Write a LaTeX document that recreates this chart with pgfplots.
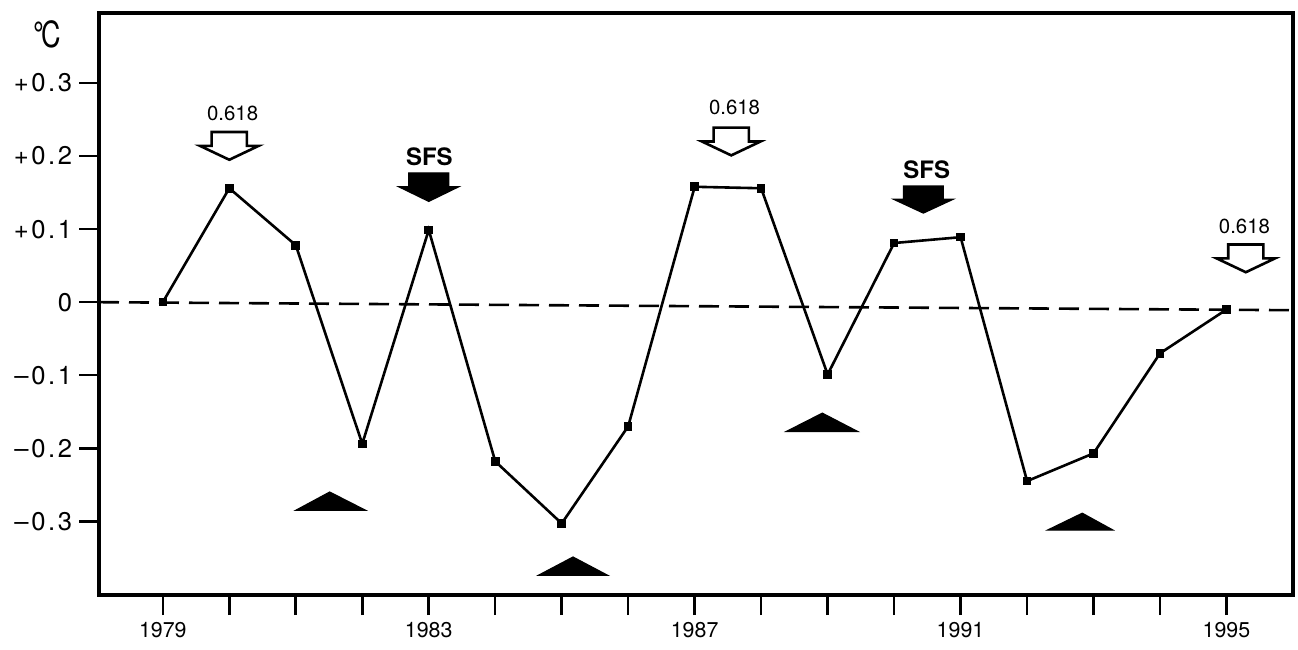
\documentclass[border=0pt]{standalone}
\usepackage{fontspec}
\setmainfont{TeX Gyre Heros}
\newfontfamily\tickfont[LetterSpace=10]{TeX Gyre Heros}
\usepackage{pgfplots}
\pgfplotsset{compat=1.18}

\begin{document}
\begin{tikzpicture}
\begin{axis}[
  scale only axis, width=597pt, height=291pt,
  xmin=1978.04, xmax=1996.0, ymin=-0.401, ymax=0.396,
  axis line style={line width=2pt},
  tick align=outside,
  major tick length=10pt,
  tick style={line width=1.3pt, black},
  xtick pos=bottom, ytick pos=left,
  xtick={1979,...,1995},
  xticklabels={1979,,,,1983,,,,1987,,,,1991,,,,1995},
  ytick={-0.3,-0.2,-0.1,0,0.1,0.2,0.3},
  yticklabels={–0.3,–0.2,–0.1,0,+0.1,+0.2,+0.3},
  xticklabel style={font=\fontsize{10.7}{12}\selectfont},
  yticklabel style={font=\tickfont\fontsize{12.8}{14}\selectfont},
  clip=false,
]

% zero reference line
\addplot[line width=1.3pt, dash pattern=on 10pt off 5pt] coordinates {(1978.04,0) (1996,-0.011)};

% annual temperature anomaly
\addplot[line width=1.3pt, mark=square*, mark size=1.5pt] coordinates {
 (1979,0) (1980,0.156) (1981,0.078) (1982,-0.194) (1983,0.099)
 (1984,-0.218) (1985,-0.303) (1986,-0.170) (1987,0.158) (1988,0.156)
 (1989,-0.099) (1990,0.081) (1991,0.089) (1992,-0.245) (1993,-0.207)
 (1994,-0.070) (1995,-0.010)};

% minima markers
\addplot[fill=black, draw=black, line width=0.6pt] coordinates {(1981.00,-0.285) (1981.51,-0.260) (1982.05,-0.285)} -- cycle;
\addplot[fill=black, draw=black, line width=0.6pt] coordinates {(1984.65,-0.374) (1985.17,-0.349) (1985.69,-0.374)} -- cycle;
\addplot[fill=black, draw=black, line width=0.6pt] coordinates {(1988.38,-0.177) (1988.92,-0.152) (1989.45,-0.177)} -- cycle;
\addplot[fill=black, draw=black, line width=0.6pt] coordinates {(1992.31,-0.312) (1992.83,-0.289) (1993.29,-0.312)} -- cycle;

% open arrows (0.618)
\addplot[fill=white, draw=black, line width=1.3pt] coordinates {(1979.735,0.233) (1980.265,0.233) (1980.265,0.214) (1980.44,0.214) (1980.0,0.195) (1979.56,0.214) (1979.735,0.214)} -- cycle;
\addplot[fill=white, draw=black, line width=1.3pt] coordinates {(1987.285,0.239) (1987.815,0.239) (1987.815,0.220) (1987.99,0.220) (1987.55,0.201) (1987.11,0.220) (1987.285,0.220)} -- cycle;
\addplot[fill=white, draw=black, line width=1.3pt] coordinates {(1995.025,0.079) (1995.555,0.079) (1995.555,0.060) (1995.73,0.060) (1995.29,0.041) (1994.85,0.060) (1995.025,0.060)} -- cycle;

% filled arrows (SFS)
\addplot[fill=black, draw=black, line width=0.6pt] coordinates {(1982.70,0.177) (1983.30,0.177) (1983.30,0.158) (1983.45,0.158) (1983.0,0.138) (1982.55,0.158) (1982.70,0.158)} -- cycle;
\addplot[fill=black, draw=black, line width=0.6pt] coordinates {(1990.14,0.159) (1990.74,0.159) (1990.74,0.141) (1990.89,0.141) (1990.44,0.122) (1989.99,0.141) (1990.14,0.141)} -- cycle;

\node[font=\fontsize{10.2}{12}\selectfont] at (axis cs:1980.05,0.259) {0.618};
\node[font=\fontsize{10.2}{12}\selectfont] at (axis cs:1987.60,0.266) {0.618};
\node[font=\fontsize{10.2}{12}\selectfont] at (axis cs:1995.27,0.104) {0.618};
\node[font=\bfseries\fontsize{12}{14}\selectfont] at (axis cs:1983.01,0.199) {SFS};
\node[font=\bfseries\fontsize{12}{14}\selectfont] at (axis cs:1990.49,0.181) {SFS};

% unit label
\node[font=\fontsize{18}{20}\selectfont, xscale=0.75] at (axis cs:1977.26,0.367) {{\bfseries°}\kern-1.5pt C};
\end{axis}
\pgfresetboundingbox
\path ([xshift=-49.5pt,yshift=-27pt]current axis.south west) rectangle ([xshift=2.5pt,yshift=6.5pt]current axis.north east);
\end{tikzpicture}
\end{document}
